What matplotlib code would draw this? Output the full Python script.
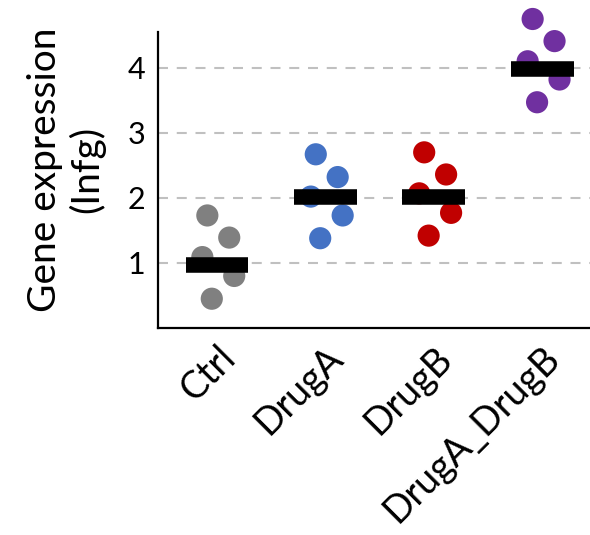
import matplotlib
matplotlib.use("Agg")
import matplotlib.pyplot as plt
import matplotlib.transforms as mtransforms
import numpy as np

categories = ["Ctrl", "DrugA", "DrugB", "DrugA_DrugB"]
ctrl = [1.73, 1.39, 1.09, 0.80, 0.45]
drug_a = [2.67, 2.32, 2.02, 1.73, 1.38]
drug_b = [2.70, 2.36, 2.07, 1.77, 1.42]
drug_ab = [4.75, 4.41, 4.10, 3.82, 3.47]
center_values = [0.965, 2.02, 2.02, 3.98]
yticks = [1, 2, 3, 4]

groups = [ctrl, drug_a, drug_b, drug_ab]
colors = ["#808080", "#4472C4", "#C00000", "#7030A0"]
jitter = np.array([-0.089, 0.113, -0.135, 0.159, -0.048])

plt.rcParams['font.family'] = ['Lato', 'DejaVu Sans']

fig = plt.figure(figsize=(5.90, 5.35), dpi=100)
ax = fig.add_axes([158/590, 1 - 328/535, 1 - 158/590, (328 - 32)/535])

for i, (vals, c) in enumerate(zip(groups, colors)):
    xs = i + jitter
    ax.scatter(xs, vals, s=255, color=c, edgecolors='none', zorder=3, clip_on=False)

ax.hlines(center_values, np.arange(4) - 0.29, np.arange(4) + 0.29,
          colors='black', linewidth=11.2, capstyle='butt', zorder=4)

ax.set_xlim(-0.544, 3.44)
ax.set_ylim(0, 4.55)
ax.set_yticks(yticks)
ax.set_xticks(range(4))
ax.set_xticklabels(categories, rotation=45, ha='right', va='baseline',
                   rotation_mode='anchor', fontsize=27)
ax.tick_params(axis='y', labelsize=22, length=0, pad=9)
ax.tick_params(axis='x', length=0, pad=0)
offset = mtransforms.ScaledTranslation(0.20, -0.32, fig.dpi_scale_trans)
for lab in ax.get_xticklabels():
    lab.set_transform(lab.get_transform() + offset)

ax.yaxis.grid(True, color='#C0C0C0', linewidth=1.5, linestyle=(0, (4.8, 4.2)))
ax.set_axisbelow(True)

for s in ['top', 'right']:
    ax.spines[s].set_visible(False)
for s in ['left', 'bottom']:
    ax.spines[s].set_linewidth(1.6)
    ax.spines[s].set_color('black')

ax.set_ylabel("Gene expression\n(Infg)", fontsize=28, linespacing=1.15)
ax.yaxis.set_label_coords(-0.123, 0.534)

fig.savefig("out.png", dpi=100)
